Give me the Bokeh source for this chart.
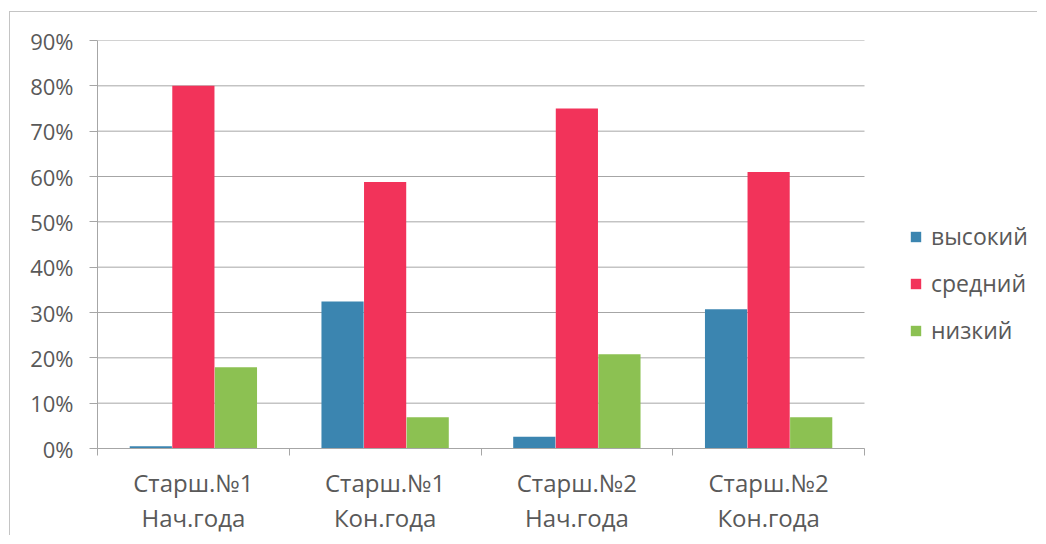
import numpy as np
from bokeh.plotting import figure
from bokeh.models import (ColumnDataSource, FixedTicker, NumeralTickFormatter,
                          LinearAxis, Legend, LegendItem, Range1d)
from bokeh.embed import file_html
from bokeh.resources import INLINE

# ---- data ----
groups_line1 = ["Старш.№1", "Старш.№1", "Старш.№2", "Старш.№2"]
groups_line2 = ["Нач.года", "Кон.года", "Нач.года", "Кон.года"]
series_names = ["высокий", "средний", "низкий"]
vysokiy = [0.005, 0.324, 0.026, 0.307]
sredniy = [0.800, 0.588, 0.750, 0.610]
nizkiy = [0.179, 0.069, 0.208, 0.069]
y_ticks = [0.0, 0.1, 0.2, 0.3, 0.4, 0.5, 0.6, 0.7, 0.8, 0.9]

# ---- style / layout ----
colors = ["#3b85b0", "#f2335a", "#8cc152"]
FONT = "Open Sans"
TXT = "#595959"
GRID = "#a6a6a6"

W, H = 1028, 524
LEFT, TOP, BOTTOM = 87, 28, 88
PLOT_W = 767            # pixel width of the 4 category bands
frame_w = W - LEFT

n = len(groups_line1)
centers = np.arange(n) + 0.5
bar_w = 0.22
offsets = [-0.222, 0.0, 0.222]

p = figure(width=W, height=H, x_range=Range1d(0, n * frame_w / PLOT_W), y_range=Range1d(0, 0.9),
           x_axis_type=None, output_backend="svg", toolbar_location=None,
           min_border_left=LEFT, min_border_top=TOP, min_border_right=0,
           min_border_bottom=BOTTOM)
p.outline_line_color = None
p.background_fill_color = "white"
p.border_fill_color = "white"
p.styles = {"margin-left": "9px", "margin-top": "11px",
            "border-left": "1px solid #c4c4c4", "border-top": "1px solid #c4c4c4"}

# horizontal gridlines limited to the category area
p.segment(x0=[0] * len(y_ticks), x1=[n] * len(y_ticks), y0=y_ticks, y1=y_ticks,
          line_color=GRID, line_width=1)

renderers = []
for vals, off, col in zip([vysokiy, sredniy, nizkiy], offsets, colors):
    src = ColumnDataSource(dict(x=centers + off, top=vals))
    r = p.vbar(x="x", top="top", width=bar_w, bottom=0, source=src,
               fill_color=col, line_color=None)
    renderers.append(r)

# y axis
ya = p.yaxis[0]
ya.ticker = FixedTicker(ticks=y_ticks)
ya.formatter = NumeralTickFormatter(format="0%")
ya.major_tick_out = 8
ya.major_tick_in = 0
ya.minor_tick_line_color = None
ya.axis_line_color = GRID
ya.major_tick_line_color = GRID
ya.major_label_text_font = FONT
ya.major_label_text_font_size = "22px"
ya.major_label_text_color = TXT
ya.major_label_standoff = 16
p.ygrid.grid_line_color = None

# x axes (two lines of category labels)
ax1 = LinearAxis(ticker=FixedTicker(ticks=list(centers), minor_ticks=list(range(n + 1))),
                 major_label_overrides={float(c): t for c, t in zip(centers, groups_line1)},
                 bounds=(0, n))
ax1.axis_line_color = GRID
ax1.major_tick_line_color = None
ax1.minor_tick_line_color = GRID
ax1.minor_tick_out = 7
ax1.minor_tick_in = 0
ax1.major_label_standoff = 10
ax1.major_label_text_font = FONT
ax1.major_label_text_font_size = "24px"
ax1.major_label_text_color = TXT
p.add_layout(ax1, "below")

ax2 = LinearAxis(ticker=FixedTicker(ticks=list(centers)),
                 major_label_overrides={float(c): t for c, t in zip(centers, groups_line2)})
ax2.axis_line_color = None
ax2.major_tick_line_color = None
ax2.minor_tick_line_color = None
ax2.major_label_standoff = -7
ax2.major_label_text_font = FONT
ax2.major_label_text_font_size = "24px"
ax2.major_label_text_color = TXT
p.add_layout(ax2, "below")

legend = Legend(items=[LegendItem(label=s, renderers=[r]) for s, r in zip(series_names, renderers)],
                location=(812, 102))
legend.background_fill_alpha = 0
legend.border_line_color = None
legend.glyph_width = 13
legend.glyph_height = 13
legend.label_standoff = 9
legend.label_height = 25
legend.spacing = 15
legend.padding = 0
legend.margin = 0
legend.label_text_font = FONT
legend.label_text_font_size = "23px"
legend.label_text_color = TXT
p.add_layout(legend)

open("out.html", "w").write(file_html(p, INLINE))
